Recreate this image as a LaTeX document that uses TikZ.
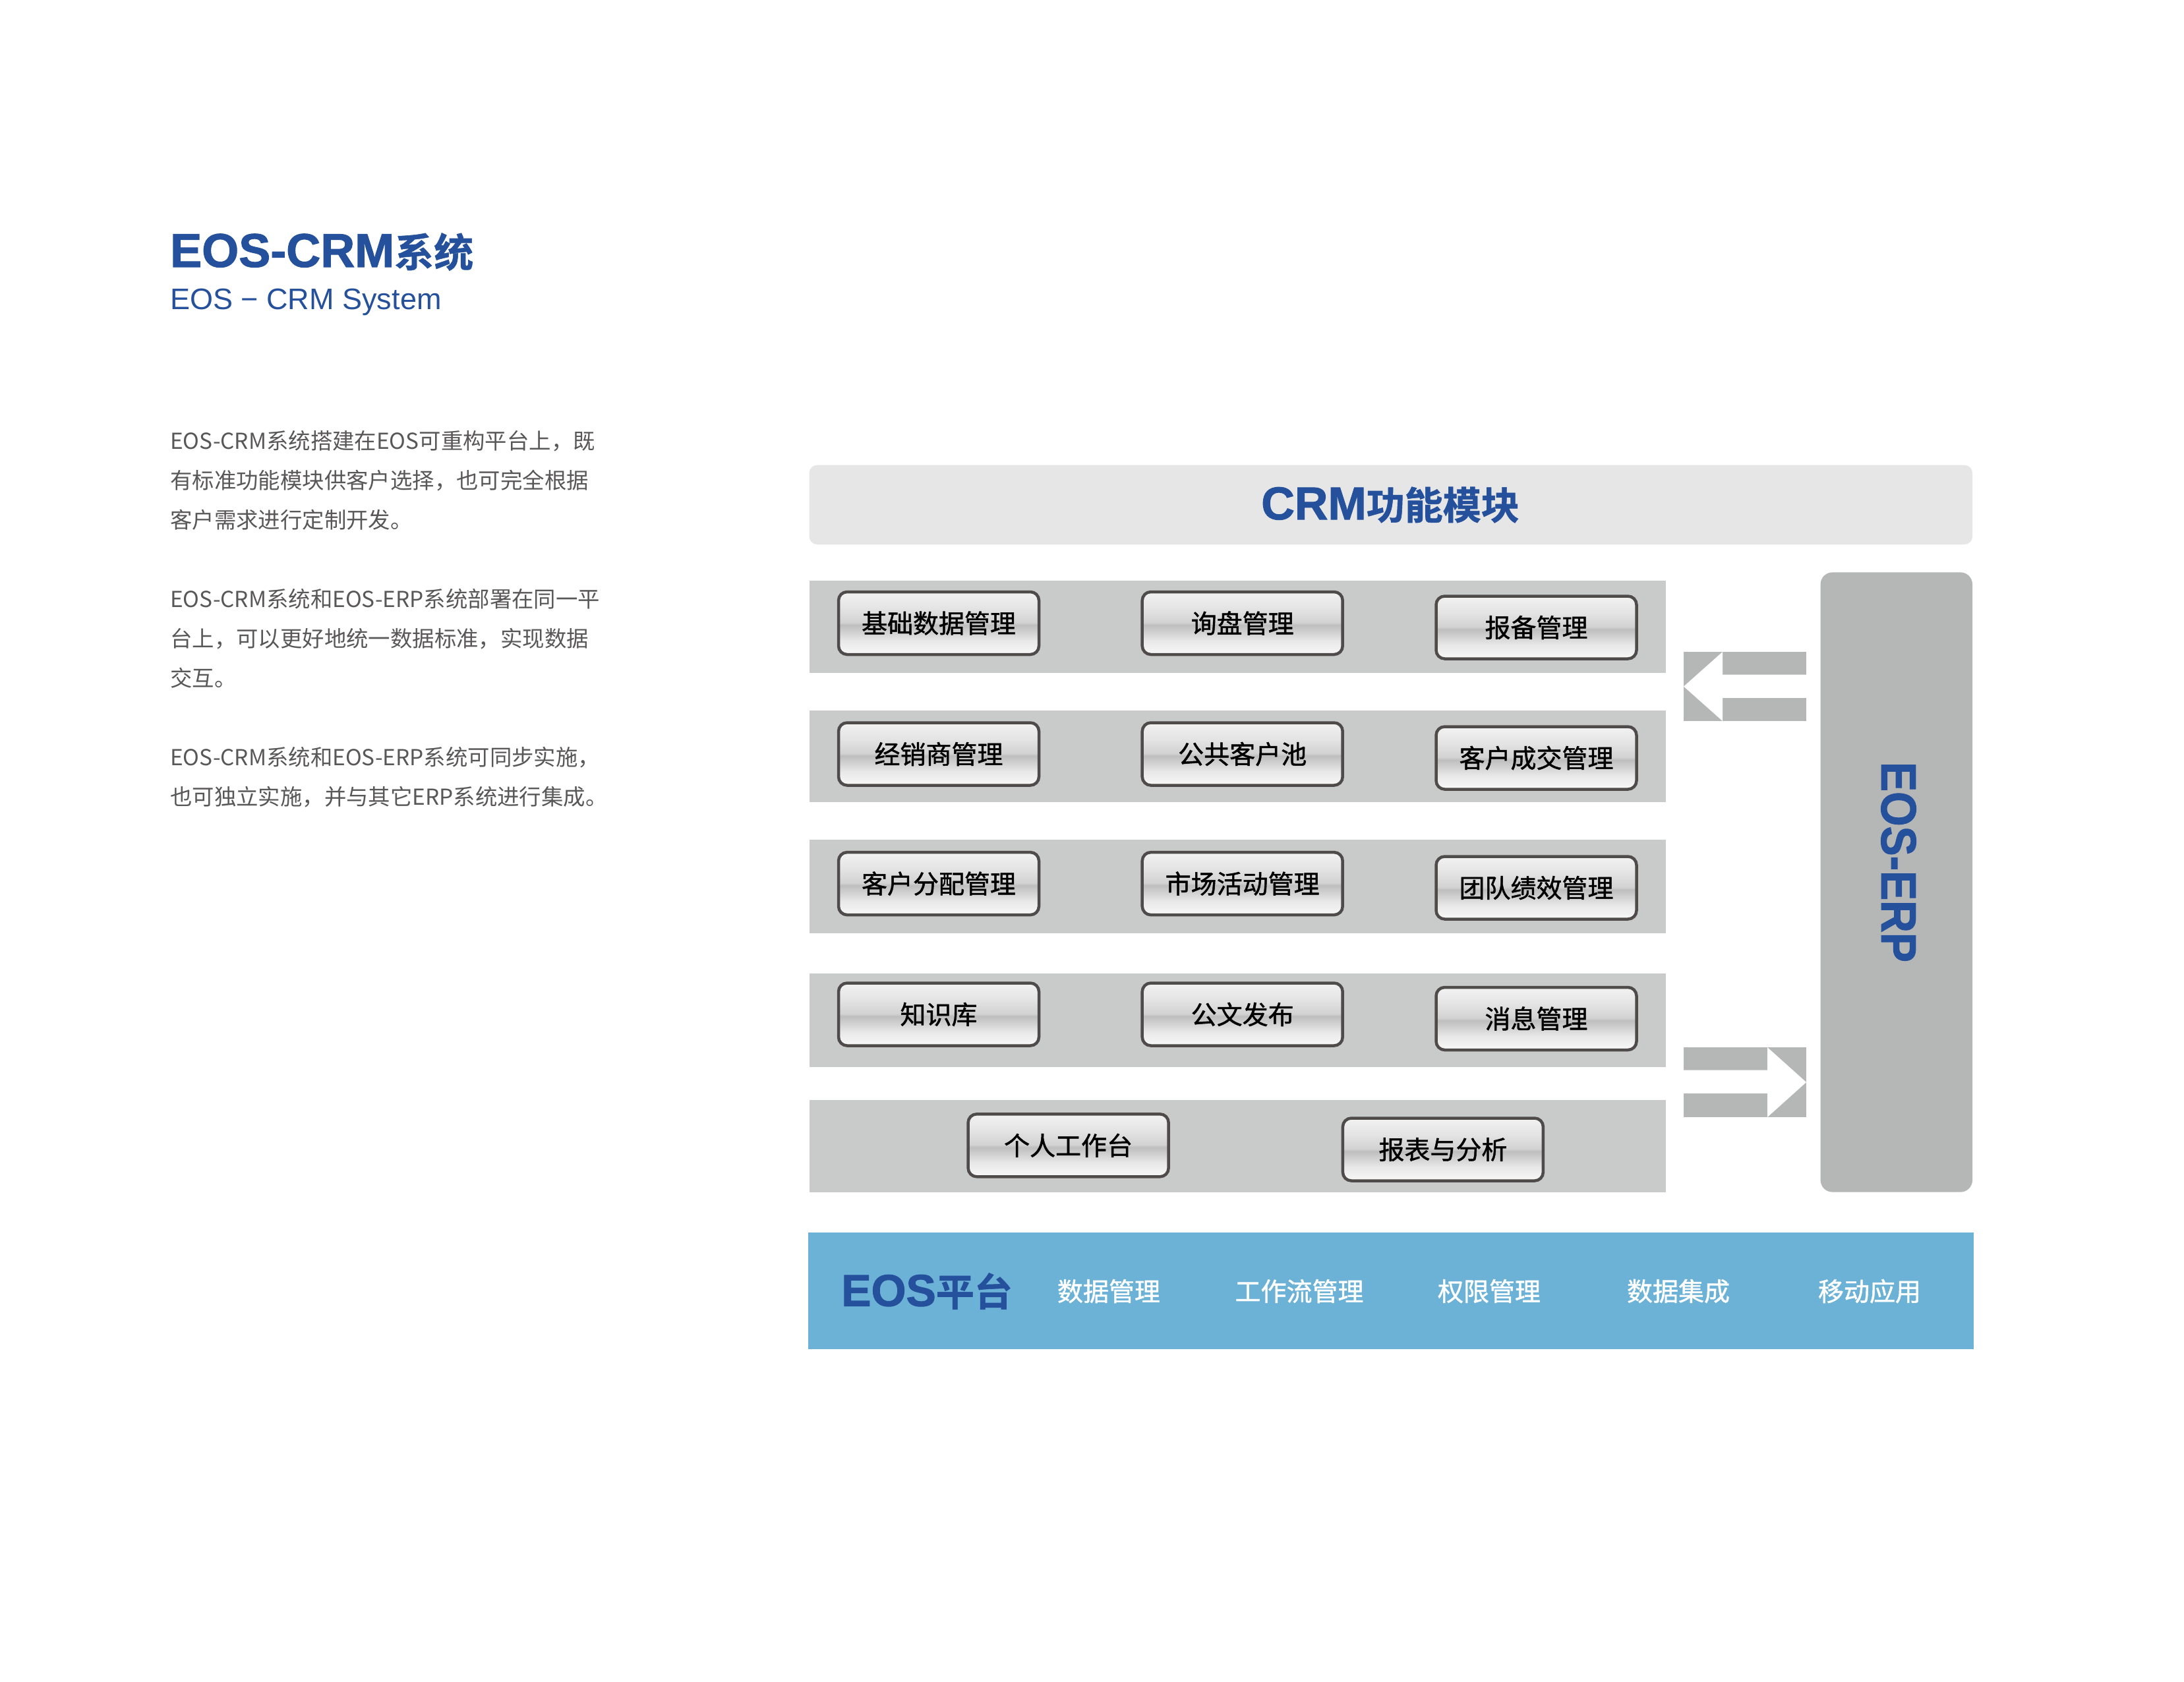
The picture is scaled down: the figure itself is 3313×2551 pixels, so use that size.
\documentclass[tikz,border=0pt]{standalone}
\usepackage{fontspec}
\setmainfont{Liberation Sans}
\newfontfamily\cjk{Noto Sans CJK SC}
\newfontfamily\cjkmid{Noto Sans CJK SC}[FakeBold=1.2]
\newfontfamily\arialf{Liberation Sans}
\newfontfamily\arialheavy{Liberation Sans Bold}[FakeBold=1.5]
\newfontfamily\cjkheavy{Noto Sans CJK SC Bold}[FakeBold=1]
\definecolor{eosblue}{HTML}{25509C}
\definecolor{bodygray}{HTML}{595757}
\definecolor{headgray}{HTML}{E6E6E6}
\definecolor{bandgray}{HTML}{C9CACA}
\definecolor{erpgray}{HTML}{B5B6B6}
\definecolor{eosbar}{HTML}{6CB2D7}
\definecolor{btnedge}{HTML}{4F4B4B}
\definecolor{bsA}{HTML}{F8F8F8}
\definecolor{bsB}{HTML}{E8E8E8}
\definecolor{bsC}{HTML}{BEBEBE}
\definecolor{bsD}{HTML}{D2D2D2}
\definecolor{bsE}{HTML}{E4E4E4}
\definecolor{bsF}{HTML}{F2F2F2}
\pgfdeclareverticalshading{btnshade}{100bp}{color(0bp)=(bsA); color(25bp)=(bsA); color(36bp)=(bsB); color(48.5bp)=(bsC); color(50.5bp)=(bsD); color(62bp)=(bsE); color(75bp)=(bsF); color(100bp)=(bsF)}
\newcommand\mybtnfont{\cjkmid\fontsize{39bp}{39bp}\selectfont}
\newcommand\mybodyfont{\cjk\fontsize{33.4bp}{60bp}\selectfont}
\begin{document}
\begin{tikzpicture}[x=1bp,y=-1bp,
  bodytext/.style={font=\mybodyfont, text=bodygray, anchor=base west, inner sep=0pt},
  btn/.style={draw=btnedge, line width=4.5bp, rounded corners=13bp, shade, shading=btnshade,
    minimum width=304bp, minimum height=95bp, inner sep=0pt, font=\mybtnfont, text=black},
  barlabel/.style={font=\mybtnfont, text=white, inner sep=0pt},
  bandbox/.style={fill=bandgray, draw=none},
  arrowbg/.style={fill=erpgray, draw=none},
  arrowcut/.style={fill=white, draw=none}]
\useasboundingbox[fill=white] (0,0) rectangle (3313,2551);

% title
\node[anchor=base west, inner sep=0pt, text=eosblue] (title) at (258,405)
  {{\arialheavy\fontsize{72bp}{72bp}\selectfont EOS-CRM}{\cjkheavy\fontsize{60bp}{60bp}\selectfont 系统}};
\node[anchor=base west, inner sep=0pt, text=eosblue, font=\arialf\fontsize{45bp}{45bp}\selectfont] (subtitle) at (258,469)
  {EOS − CRM System};

% body paragraphs
\node[bodytext] (p1a) at (258,681) {EOS-CRM系统搭建在EOS可重构平台上，既};
\node[bodytext] (p1b) at (258,741) {有标准功能模块供客户选择，也可完全根据};
\node[bodytext] (p1c) at (258,801) {客户需求进行定制开发。};
\node[bodytext] (p2a) at (258,921) {EOS-CRM系统和EOS-ERP系统部署在同一平};
\node[bodytext] (p2b) at (258,981) {台上，可以更好地统一数据标准，实现数据};
\node[bodytext] (p2c) at (258,1041) {交互。};
\node[bodytext] (p3a) at (258,1161) {EOS-CRM系统和EOS-ERP系统可同步实施，};
\node[bodytext] (p3b) at (258,1221) {也可独立实施，并与其它ERP系统进行集成。};

% CRM header
\fill[headgray, rounded corners=12bp] (1227.6,705.7) rectangle (2992,826);
\node[inner sep=0pt, text=eosblue] (crmhead) at (2109,766)
  {{\arialheavy\fontsize{70bp}{70bp}\selectfont CRM}{\cjkheavy\fontsize{58bp}{58bp}\selectfont 功能模块}};

% bands
\fill[bandbox] (1227.6,881) rectangle (2527,1020.5);
\fill[bandbox] (1227.6,1077.6) rectangle (2527,1217);
\fill[bandbox] (1227.6,1274) rectangle (2527,1415.6);
\fill[bandbox] (1227.6,1477) rectangle (2527,1618.5);
\fill[bandbox] (1227.6,1669.2) rectangle (2527,1808.6);

% buttons
\node[btn] (b11) at (1424,945.5) {基础数据管理};
\node[btn] (b12) at (1884.7,945.5) {询盘管理};
\node[btn] (b13) at (2330.5,952) {报备管理};
\node[btn] (b21) at (1424,1144) {经销商管理};
\node[btn] (b22) at (1884.7,1144) {公共客户池};
\node[btn] (b23) at (2330.5,1150) {客户成交管理};
\node[btn] (b31) at (1424,1340.6) {客户分配管理};
\node[btn] (b32) at (1884.7,1340.6) {市场活动管理};
\node[btn] (b33) at (2330.5,1347) {团队绩效管理};
\node[btn] (b41) at (1424,1539) {知识库};
\node[btn] (b42) at (1884.7,1539) {公文发布};
\node[btn] (b43) at (2330.5,1545.5) {消息管理};
\node[btn] (b51) at (1620.6,1737.8) {个人工作台};
\node[btn] (b52) at (2188.9,1744) {报表与分析};

% ERP box
\fill[erpgray, rounded corners=18bp] (2761.6,868.4) rectangle (2992,1808.6);
\node[rotate=-90, inner sep=0pt, text=eosblue, font=\arialheavy\fontsize{75bp}{75bp}\selectfont] (erptext) at (2880,1308)
  {\scalebox{0.9}[1]{EOS-ERP}};

% arrows
\fill[arrowbg] (2554,989) rectangle (2740,1094);
\fill[arrowcut] (2554,1041.5) -- (2613,989) -- (2613,1023.6) -- (2741,1023.6) -- (2741,1058.8) -- (2613,1058.8) -- (2613,1094) -- cycle;
\fill[arrowbg] (2554,1589) rectangle (2740,1695);
\fill[arrowcut] (2740,1642) -- (2681,1589) -- (2681,1623.6) -- (2553,1623.6) -- (2553,1658.8) -- (2681,1658.8) -- (2681,1695) -- cycle;

% EOS platform bar
\fill[eosbar] (1225.5,1870) rectangle (2994,2047);
\node[anchor=west, inner sep=0pt, text=eosblue] (eosplat) at (1276,1959)
  {{\arialheavy\fontsize{68bp}{68bp}\selectfont EOS}{\cjkheavy\fontsize{58bp}{58bp}\selectfont 平台}};
\node[barlabel] (l1) at (1682,1959) {数据管理};
\node[barlabel] (l2) at (1971,1959) {工作流管理};
\node[barlabel] (l3) at (2259,1959) {权限管理};
\node[barlabel] (l4) at (2546,1959) {数据集成};
\node[barlabel] (l5) at (2836,1959) {移动应用};
\end{tikzpicture}
\end{document}
